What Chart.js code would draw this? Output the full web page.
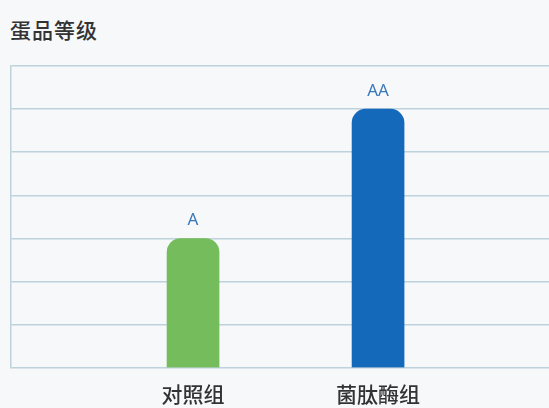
<!DOCTYPE html>
<html>
<head>
<meta charset="utf-8">
<script src="https://cdn.jsdelivr.net/npm/chart.js@4/dist/chart.umd.min.js"></script>
<style>
  html, body { margin: 0; padding: 0; background: #f6f8fa; }
  #wrap { position: relative; width: 549px; height: 408px; overflow: hidden; }
  #title {
    position: absolute; left: 10px; top: 14px;
    font-family: "Noto Sans CJK SC", sans-serif; font-size: 21px; font-weight: 500;
    color: #333; letter-spacing: 1px;
  }
  canvas { position: absolute; left: 0; top: 0; }
</style>
</head>
<body>
<div id="wrap">
  <div id="title">蛋品等级</div>
  <canvas id="gradeChart" width="549" height="408"></canvas>
</div>
<script>
// 分组与等级数据
const categories = ['对照组', '菌肽酶组'];
const gradeValues = [3, 6];
const gradeLabels = ['A', 'AA'];
const barColors = ['#74bc5c', '#1469ba'];

const GRID_COLOR = '#bed2db';

// 柱顶等级文字
const gradeLabelPlugin = {
  id: 'gradeLabel',
  afterDatasetsDraw(chart) {
    const ctx = chart.ctx;
    const meta = chart.getDatasetMeta(0);
    ctx.save();
    ctx.font = '400 17px "Noto Sans", sans-serif';
    ctx.fillStyle = '#3a78b8';
    ctx.textAlign = 'center';
    ctx.textBaseline = 'middle';
    meta.data.forEach((bar, i) => {
      ctx.fillText(gradeLabels[i], bar.x, bar.y - 18);
    });
    ctx.restore();
  }
};

new Chart(document.getElementById('gradeChart'), {
  type: 'bar',
  data: {
    datasets: [{
      data: categories.map((c, i) => ({ x: i + 1, y: gradeValues[i] })),
      backgroundColor: barColors,
      barThickness: 52,
      borderRadius: { topLeft: 14, topRight: 14, bottomLeft: 0, bottomRight: 0 },
      borderSkipped: 'bottom'
    }]
  },
  options: {
    responsive: false,
    animation: false,
    layout: { padding: { left: 11, top: 66, right: 0, bottom: -13 } },
    plugins: { legend: { display: false }, tooltip: { enabled: false } },
    scales: {
      x: {
        type: 'linear',
        offset: false,
        min: 0.016,
        max: 2.924,
        grid: { display: false, drawTicks: false },
        border: { display: false },
        afterBuildTicks: (scale) => {
          scale.ticks = categories.map((c, i) => ({ value: i + 1 }));
        },
        ticks: {
          padding: 14,
          autoSkip: false,
          maxRotation: 0,
          color: '#333',
          font: { family: '"Noto Sans CJK SC", sans-serif', size: 21, weight: '500' },
          callback: (v) => categories[Math.round(v) - 1]
        }
      },
      y: {
        min: 0,
        max: 7,
        ticks: { display: false, stepSize: 1 },
        grid: { color: GRID_COLOR, lineWidth: 1.5, drawTicks: false },
        border: { display: true, color: GRID_COLOR, width: 1.5 }
      }
    }
  },
  plugins: [gradeLabelPlugin]
});
</script>
</body>
</html>
